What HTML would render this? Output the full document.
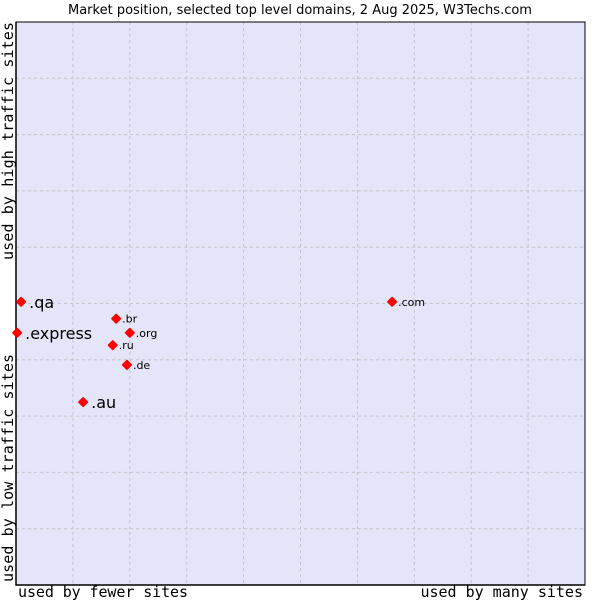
<!DOCTYPE html>
<html><head><meta charset="utf-8"><style>
body{margin:0;background:#fff;width:600px;height:600px;overflow:hidden}
svg text{font-family:"DejaVu Sans","Liberation Sans",sans-serif}
.mono{font-family:"DejaVu Sans Mono","Liberation Mono",monospace}
</style></head><body>
<svg id="chart" width="600" height="600">
<text x="300" y="14" text-anchor="middle" font-size="13" fill="#000">Market position, selected top level domains, 2 Aug 2025, W3Techs.com</text>
<rect x="16" y="22" width="569" height="563" fill="#e4e5f8"/>
<g id="grid"></g>
<path d="M16 22H585V585H16Z" fill="none" stroke="#000" stroke-width="1"/>
<path d="M16 22V585H585" fill="none" stroke="#000" stroke-width="1.5"/>
<g id="points"></g>
<text class="mono" x="18" y="597" font-size="15" textLength="170">used by fewer sites</text>
<text class="mono" x="583" y="597" font-size="15" text-anchor="end">used by many sites</text>
<text class="mono" transform="translate(13,582) rotate(-90)" font-size="15" textLength="228">used by low traffic sites</text>
<text class="mono" transform="translate(13,260) rotate(-90)" font-size="15" textLength="238">used by high traffic sites</text>
</svg>
<script>
const labels=[".qa",".express",".br",".org",".ru",".de",".au",".com"];
const xs=[0.9,0.2,17.6,20.0,17.0,19.5,11.8,66.1];
const ys=[50.3,44.8,47.3,44.8,42.6,39.1,32.5,50.3];
const big=[true,true,false,false,false,false,true,false];
const NS="http://www.w3.org/2000/svg";
const X0=16,X1=585,Y0=585,Y1=22;
function sx(v){return X0+v/100*(X1-X0);}
function sy(v){return Y0-v/100*(Y0-Y1);}
const grid=document.getElementById('grid');
for(let i=1;i<10;i++){
  const l=document.createElementNS(NS,'line');
  
  
  l.setAttribute('x1',sx(i*10));l.setAttribute('x2',sx(i*10));l.setAttribute('y1',Y1);l.setAttribute('y2',Y0);
  l.setAttribute('stroke','#c4c4cc');l.setAttribute('stroke-dasharray','3,3');grid.appendChild(l);
  const h=document.createElementNS(NS,'line');
  
  
  h.setAttribute('x1',X0);h.setAttribute('x2',X1);h.setAttribute('y1',sy(i*10));h.setAttribute('y2',sy(i*10));
  h.setAttribute('stroke','#c4c4cc');h.setAttribute('stroke-dasharray','3,3');grid.appendChild(h);
}
const pts=document.getElementById('points');
labels.forEach((lb,i)=>{
  const x=sx(xs[i]),y=sy(ys[i]);
  const d=document.createElementNS(NS,'path');
  
  
  d.setAttribute('d',`M${x} ${y-4}L${x+4} ${y}L${x} ${y+4}L${x-4} ${y}Z`);
  d.setAttribute('fill','#f00');d.setAttribute('stroke','#f00');
  d.setAttribute('stroke-width','2');d.setAttribute('stroke-linejoin','round');
  pts.appendChild(d);
  const t=document.createElementNS(NS,'text');
  
  
  t.setAttribute('x',x+(big[i]?8:6));t.setAttribute('y',y+(big[i]?6:4));
  t.setAttribute('font-size',big[i]?16:11);t.textContent=lb;pts.appendChild(t);
});
</script>
</body></html>
